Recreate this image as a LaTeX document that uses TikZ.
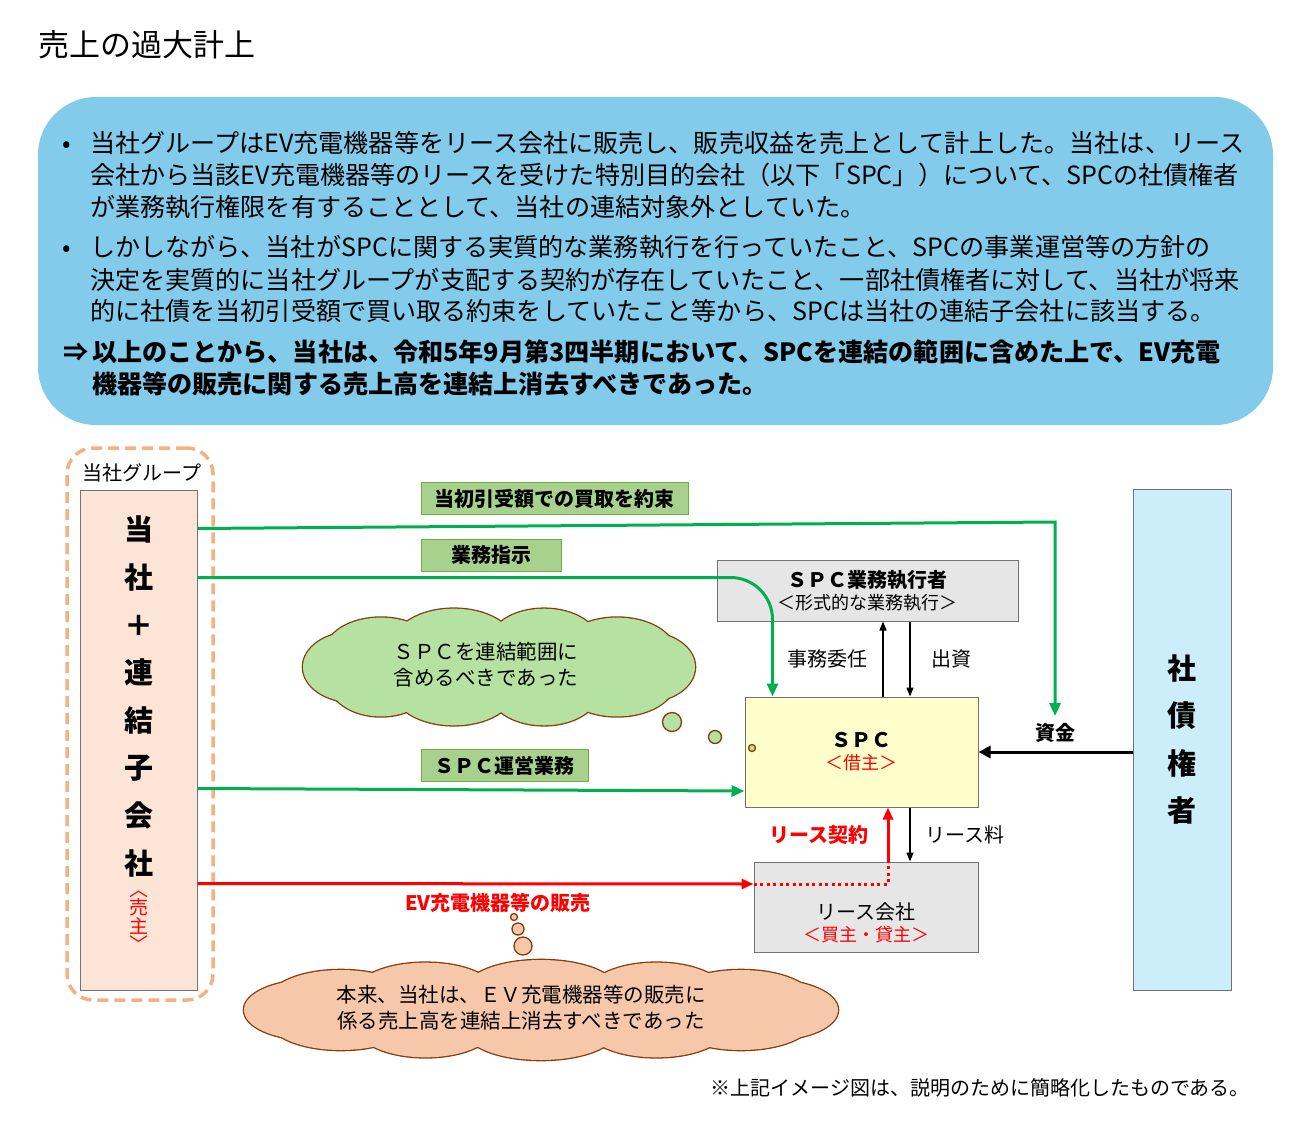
\documentclass[tikz,border=0pt]{standalone}
\usepackage{fontspec}
\setmainfont{Noto Sans CJK JP}
\usetikzlibrary{positioning,arrows.meta,calc}
\definecolor{skyblue}{RGB}{131,203,235}
\definecolor{grpline}{RGB}{244,177,131}
\definecolor{corpfill}{RGB}{252,228,214}
\definecolor{bondfill}{RGB}{204,237,250}
\definecolor{spcfill}{RGB}{255,255,204}
\definecolor{boxgray}{RGB}{231,230,230}
\definecolor{tagfill}{RGB}{169,209,142}
\definecolor{tagline}{RGB}{112,173,71}
\definecolor{ggreen}{RGB}{0,176,80}
\definecolor{puffgreen}{RGB}{181,226,160}
\definecolor{puffpeach}{RGB}{247,199,170}
\definecolor{puffline}{RGB}{132,60,12}
\tikzset{
  body/.style  = {anchor=west, inner sep=0pt, font=\fontsize{25.1}{32}\selectfont},
  tag/.style   = {rectangle, draw=tagline, fill=tagfill, line width=1pt, inner sep=0pt,
                  minimum height=32pt, font=\fontsize{20}{24}\selectfont\bfseries},
  box/.style   = {rectangle, draw=black!55, line width=1pt, align=center,
                  font=\fontsize{20}{24}\selectfont},
  lbl/.style   = {inner sep=0pt, font=\fontsize{20}{24}\selectfont},
  puffedge/.style = {draw=puffline, line width=2.6pt},
  pufftext/.style = {align=center, inner sep=0pt, font=\fontsize{20.5}{26}\selectfont},
  dot/.style   = {circle, draw=puffline, line width=1.3pt, inner sep=0pt},
  gflow/.style = {-{Triangle[length=13pt,width=11pt]}, line width=3pt, ggreen},
  rflow/.style = {-{Triangle[length=12pt,width=10pt]}, line width=3pt, red},
  kflow/.style = {-{Triangle[length=9pt,width=7pt]}, line width=1.5pt, black},
}
\begin{document}
\begin{tikzpicture}[x=1pt,y=-1pt]
\useasboundingbox (0,0) rectangle (1297,1126);

% title and summary
\node[anchor=west, inner sep=0pt, font=\fontsize{31}{36}\selectfont] (title) at (38,45) {売上の過大計上};
\node[rectangle, rounded corners=58pt, fill=skyblue, minimum width=1235pt, minimum height=328pt] (summary) at (655.5,261) {};

\node[body] (l1) at (62,143) {\makebox[28pt][l]{•}当社グループはEV充電機器等をリース会社に販売し、販売収益を売上として計上した。当社は、リース};
\node[body] (l2) at (90,175) {会社から当該EV充電機器等のリースを受けた特別目的会社（以下「SPC」）について、SPCの社債権者};
\node[body] (l3) at (90,207) {が業務執行権限を有することとして、当社の連結対象外としていた。};
\node[body] (l4) at (62,247) {\makebox[28pt][l]{•}しかしながら、当社がSPCに関する実質的な業務執行を行っていたこと、SPCの事業運営等の方針の};
\node[body] (l5) at (90,280) {決定を実質的に当社グループが支配する契約が存在していたこと、一部社債権者に対して、当社が将来};
\node[body] (l6) at (90,311) {的に社債を当初引受額で買い取る約束をしていたこと等から、SPCは当社の連結子会社に該当する。};
\node[body, font=\fontsize{25.1}{32}\selectfont\bfseries] (l7) at (63,352) {\makebox[29pt][l]{⇒}以上のことから、当社は、令和5年9月第3四半期において、SPCを連結の範囲に含めた上で、EV充電};
\node[body, font=\fontsize{25.1}{32}\selectfont\bfseries] (l8) at (92,384) {機器等の販売に関する売上高を連結上消去すべきであった。};

% parties
\node[draw=grpline, dash pattern=on 11pt off 6pt, line width=3.5pt, rounded corners=26pt,
      minimum width=146pt, minimum height=552pt] (group) at (140,724) {};
\node[lbl] (grouplbl) at (142,473) {当社グループ};
\node[box, fill=corpfill, minimum width=117pt, minimum height=500pt] (corp) at (138.5,740) {};
\node[align=center, inner sep=0pt, font=\fontsize{29}{47.6}\selectfont\bfseries] (corptext) at (138.5,696.5)
     {当\\社\\＋\\連\\結\\子\\会\\社};
\node[align=center, inner sep=0pt, text=red, font=\fontsize{19}{18.5}\selectfont] (corprole) at (138.5,921)
     {︿\\売\\主\\﹀};

\node[box, fill=bondfill, minimum width=98pt, minimum height=501pt,
      font=\fontsize{29}{47.5}\selectfont\bfseries] (bond) at (1182,739.5) {社\\債\\権\\者};

\node[box, fill=boxgray, minimum width=301pt, minimum height=61pt] (exec) at (867.5,590.5)
     {{\bfseries ＳＰＣ業務執行者}\\[-2pt]{\fontsize{18}{22}\selectfont ＜形式的な業務執行＞}};
\node[box, fill=spcfill, minimum width=233pt, minimum height=110pt] (spc) at (861.5,752)
     {{\bfseries ＳＰＣ}\\[-2pt]{\color{red}\fontsize{18}{22}\selectfont ＜借主＞}};
\node[box, fill=boxgray, minimum width=224pt, minimum height=90pt] (lease) at (866,907) {};
\node[lbl, align=center] (leasetext) at (866,923)
     {リース会社\\[-2pt]{\color{red}\fontsize{18}{22}\selectfont ＜買主・貸主＞}};

% flow tags
\node[tag, minimum width=267pt] (promise) at (554.5,498.5) {当初引受額での買取を約束};
\node[tag, minimum width=140pt] (order) at (491,555) {業務指示};
\node[tag, minimum width=167pt] (ops) at (504.5,765.5) {ＳＰＣ運営業務};

\coordinate (buyback) at (1055,522);
\coordinate (buyend) at (1055,716);
\coordinate (bend) at (888,884);

% connectors
\draw[gflow] ([yshift=-39pt]corp.north east) -- (buyback) -- (buyend);
\draw[gflow, rounded corners=42pt] ([yshift=-88pt]corp.north east) -| ([xshift=28pt]spc.north west);
\draw[gflow] ([yshift=-299pt]corp.north east) -- ([yshift=-39pt]spc.west);
\draw[rflow] ([yshift=-394pt]corp.north east) -- node[pos=0.54, below=8pt, lbl, text=red, font=\fontsize{20}{24}\selectfont\bfseries] (lblsale) {EV充電機器等の販売} ([yshift=23pt]lease.west);
\draw[red, line width=3pt, dash pattern=on 3pt off 3.5pt] ([yshift=23pt]lease.west) -- (bend) -- (bend |- lease.north);
\draw[rflow] (bend |- lease.north) -- node[left=18pt, lbl, text=red, font=\fontsize{20}{24}\selectfont\bfseries] (lblcontract) {リース契約} (bend |- spc.south);

\draw[kflow] ([xshift=21.5pt]spc.north) -- node[left=15pt, lbl] (lblduty) {事務委任} ([xshift=21.5pt]spc.north |- exec.south);
\draw[kflow] ([xshift=48.5pt]spc.north |- exec.south) -- node[right=21pt, lbl] (lblinvest) {出資} ([xshift=48.5pt]spc.north);
\draw[kflow] ([xshift=48.5pt]spc.south) -- node[right=15pt, lbl] (lblfee) {リース料} ([xshift=48.5pt]spc.south |- lease.north);
\draw[-{Triangle[length=12pt,width=12pt]}, line width=3pt] (bond.west |- spc.east) -- node[above=8pt, lbl, font=\fontsize{20}{24}\selectfont\bfseries] (lblcash) {資金} (spc.east);

% thought clouds: outlined puffs, then filled again on top
\coordinate (thinkspc) at (499,667);
\foreach \t/\r in {0/50,36/58,72/55,108/60,144/52,180/50,216/56,252/60,288/55,324/58}
  \draw[puffedge] ($(thinkspc)+({146*cos(\t)},{24.5*sin(\t)})$) ellipse [x radius=\r, y radius=35];
\foreach \t/\r in {0/50,36/58,72/55,108/60,144/52,180/50,216/56,252/60,288/55,324/58}
  \fill[puffgreen] ($(thinkspc)+({146*cos(\t)},{24.5*sin(\t)})$) ellipse [x radius=\r, y radius=35];
\fill[puffgreen] (thinkspc) ellipse [x radius=165, y radius=40];
\node[pufftext] (thinkspctext) at (486,665) {ＳＰＣを連結範囲に\\含めるべきであった};
\node[dot, fill=puffgreen, minimum size=19pt] (gdot1) at (672,722) {};
\node[dot, fill=puffgreen, minimum size=13pt] (gdot2) at (715,737) {};
\node[dot, fill=puffgreen, minimum size=7pt] (gdot3) at (752,748) {};

\coordinate (thinksale) at (541,1010);
\foreach \t/\r in {0/66,30/72,60/70,90/76,120/68,150/72,180/66,210/72,240/70,270/76,300/68,330/72}
  \draw[puffedge] ($(thinksale)+({231*cos(\t)},{20*sin(\t)})$) ellipse [x radius=\r, y radius=30];
\foreach \t/\r in {0/66,30/72,60/70,90/76,120/68,150/72,180/66,210/72,240/70,270/76,300/68,330/72}
  \fill[puffpeach] ($(thinksale)+({231*cos(\t)},{20*sin(\t)})$) ellipse [x radius=\r, y radius=30];
\fill[puffpeach] (thinksale) ellipse [x radius=250, y radius=38];
\node[pufftext] (thinksaletext) at (521,1008) {本来、当社は、ＥＶ充電機器等の販売に\\係る売上高を連結上消去すべきであった};
\node[dot, fill=puffpeach, minimum size=18pt] (pdot1) at (523,946) {};
\node[dot, fill=puffpeach, minimum size=12pt] (pdot2) at (518,929) {};
\node[dot, fill=puffpeach, minimum size=7pt] (pdot3) at (514,917) {};

\node[lbl, anchor=east] (footnote) at (1250,1088) {※上記イメージ図は、説明のために簡略化したものである。};
\end{tikzpicture}
\end{document}
